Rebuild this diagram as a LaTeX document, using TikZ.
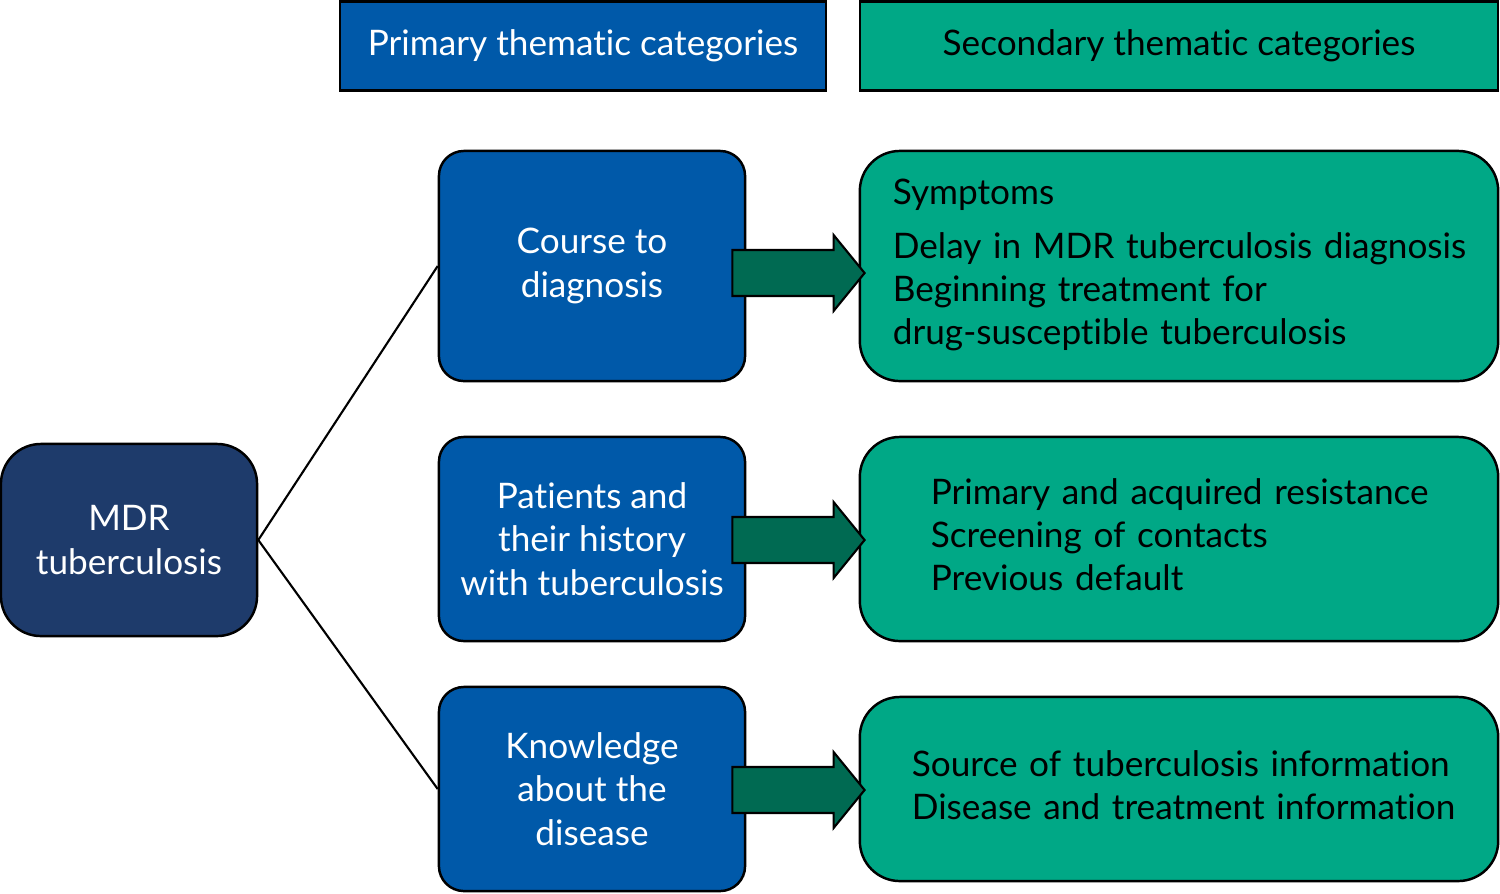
\documentclass[tikz,border=0pt]{standalone}
\usepackage{fontspec}
\setmainfont{Lato}[Ligatures=NoCommon]
\usetikzlibrary{calc}
\definecolor{primblue}{RGB}{0,89,169}
\definecolor{secteal}{RGB}{0,168,134}
\definecolor{mdrnavy}{RGB}{30,59,107}
\definecolor{arrowgreen}{RGB}{0,106,82}
\tikzset{
  txt/.style={font=\fontsize{10}{12.3}\selectfont},
  head/.style={draw=black, line width=0.6pt, minimum height=0.89cm, inner sep=0pt, txt},
  prim/.style={draw=black, line width=0.7pt, fill=primblue, text=white, rounded corners=0.25cm,
    align=center, minimum width=3.06cm, inner sep=0pt, txt},
  sec/.style={draw=black, line width=0.7pt, fill=secteal, rounded corners=0.4cm,
    align=left, inner ysep=0pt, txt}
}
\newcommand{\seclines}[1]{\begin{tabular}{@{}l@{}}#1\end{tabular}}
\begin{document}
\begin{tikzpicture}[x=0.01cm,y=-0.01cm]
\useasboundingbox (0,0) rectangle (1500,893);

% headers
\node[head, fill=primblue, text=white, minimum width=4.86cm] (hprim) at (583,46) {Primary thematic categories};
\node[head, fill=secteal, minimum width=6.38cm] (hsec) at (1179,46) {Secondary thematic categories};

% root
\node[prim, fill=mdrnavy, minimum width=2.56cm, minimum height=1.92cm, rounded corners=0.4cm] (mdr) at (129,540) {MDR\\tuberculosis};

% primary categories
\node[prim, minimum height=2.30cm] (p1) at (592,266) {Course to\\diagnosis};
\node[prim, minimum height=2.04cm] (p2) at (592,539) {Patients and\\their history\\with tuberculosis};
\node[prim, minimum height=2.04cm] (p3) at (592,789) {Knowledge\\about the\\disease};

% secondary categories
\node[sec, minimum height=2.30cm, inner xsep=0.33cm, text width=5.72cm] (s1) at (1179,266)
  {\seclines{Symptoms\\[3pt]Delay in MDR tuberculosis diagnosis\\Beginning treatment for\\drug-susceptible tuberculosis}};
\node[sec, minimum height=2.04cm, inner xsep=0.71cm, text width=4.96cm] (s2) at (1179,539)
  {\seclines{Primary and acquired resistance\\Screening of contacts\\Previous default}};
\node[sec, minimum height=1.84cm, inner xsep=0.52cm, text width=5.34cm] (s3) at (1179,789)
  {\seclines{Source of tuberculosis information\\Disease and treatment information}};

\draw[line width=0.6pt] (mdr.east) -- (p1.west);
\draw[line width=0.6pt] (mdr.east) -- (p3.west);

% block arrows
\foreach \i/\dy in {1/0.07cm,2/0.01cm,3/0.01cm}
  \filldraw[fill=arrowgreen, draw=black, line width=0.6pt]
    let \p1=(p\i.east), \p2=(s\i.west) in
    ({\x1-0.14cm},{\y2-\dy+0.23cm}) -- ({\x2-0.25cm},{\y2-\dy+0.23cm}) -- ({\x2-0.25cm},{\y2-\dy+0.38cm})
    -- ({\x2+0.06cm},{\y2-\dy}) -- ({\x2-0.25cm},{\y2-\dy-0.38cm}) -- ({\x2-0.25cm},{\y2-\dy-0.23cm})
    -- ({\x1-0.14cm},{\y2-\dy-0.23cm}) -- cycle;
\end{tikzpicture}
\end{document}
